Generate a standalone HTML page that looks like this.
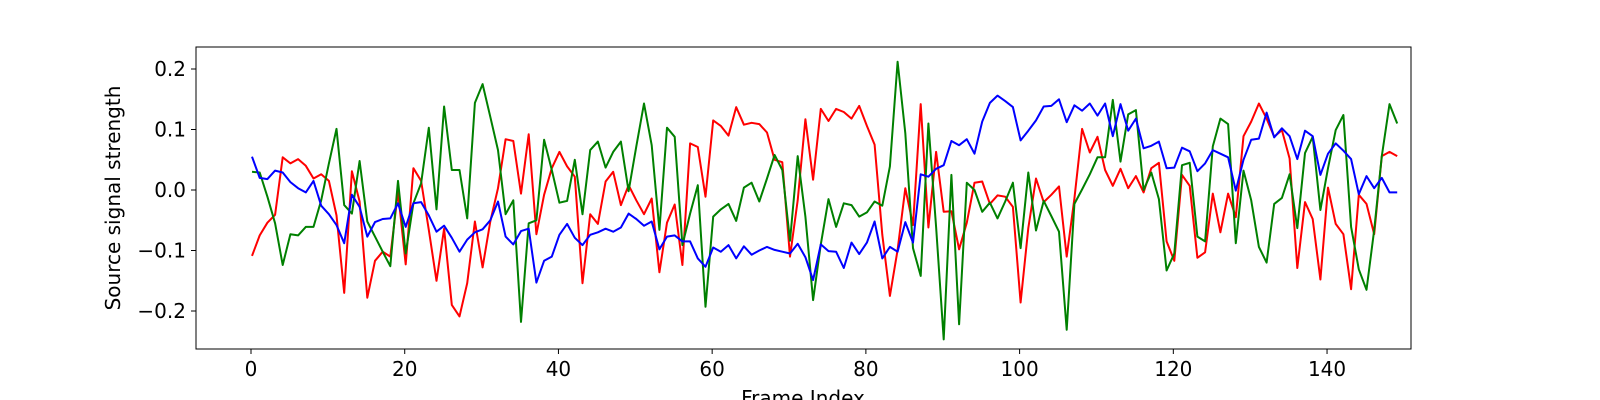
<!DOCTYPE html>
<html><head><meta charset="utf-8"><style>
body{margin:0;background:#fff;}
svg{display:block;font-family:"DejaVu Sans","Liberation Sans",sans-serif;}
</style></head><body>
<svg id="chart" width="1600" height="400">
<g id="lines"></g>
<rect x="196" y="47" width="1215" height="302" fill="none" stroke="#000" stroke-width="1"/>
<g id="xt"></g>
<g id="yt"></g>
<text x="120" y="198" font-size="20" text-anchor="middle" transform="rotate(-90 120 198)">Source signal strength</text>
<text x="803" y="405" font-size="20" text-anchor="middle">Frame Index</text>
</svg>
<script>
const xTicks=[0,20,40,60,80,100,120,140];
const yTicks=[0.2,0.1,0.0,-0.1,-0.2];
const yTickLabels=["0.2","0.1","0.0","−0.1","−0.2"];
const seriesColors=["red","green","blue"];
const redValues=[-0.109,-0.075,-0.054,-0.041,0.054,0.044,0.051,0.040,0.019,0.026,0.015,-0.042,-0.170,0.031,-0.019,-0.178,-0.117,-0.102,-0.110,-0.003,-0.123,0.036,0.015,-0.066,-0.150,-0.064,-0.190,-0.209,-0.154,-0.052,-0.128,-0.052,0.003,0.084,0.081,-0.006,0.092,-0.073,-0.008,0.036,0.063,0.039,0.022,-0.154,-0.040,-0.056,0.014,0.030,-0.025,0.008,-0.017,-0.040,-0.014,-0.136,-0.054,-0.024,-0.124,0.077,0.071,-0.011,0.115,0.106,0.090,0.137,0.108,0.111,0.109,0.095,0.050,0.046,-0.110,-0.017,0.117,0.017,0.134,0.114,0.134,0.129,0.118,0.139,0.106,0.075,-0.074,-0.175,-0.099,0.003,-0.058,0.142,-0.062,0.063,-0.036,-0.035,-0.098,-0.054,0.012,0.014,-0.023,-0.009,-0.011,-0.028,-0.186,-0.063,0.019,-0.020,-0.008,0.006,-0.110,-0.014,0.101,0.062,0.088,0.033,0.007,0.035,0.003,0.023,-0.004,0.036,0.045,-0.085,-0.117,0.025,0.007,-0.112,-0.103,-0.006,-0.070,-0.006,-0.045,0.089,0.113,0.143,0.118,0.088,0.099,0.052,-0.129,-0.020,-0.048,-0.148,0.004,-0.056,-0.073,-0.164,-0.008,-0.023,-0.073,0.056,0.063,0.056];
const greenValues=[0.030,0.029,-0.011,-0.055,-0.124,-0.073,-0.075,-0.061,-0.061,-0.017,0.044,0.101,-0.025,-0.039,0.048,-0.052,-0.077,-0.102,-0.126,0.015,-0.105,-0.022,0.011,0.103,-0.032,0.138,0.033,0.033,-0.047,0.144,0.175,0.121,0.066,-0.040,-0.017,-0.218,-0.055,-0.050,0.083,0.033,-0.021,-0.018,0.050,-0.040,0.066,0.080,0.037,0.063,0.080,-0.002,0.072,0.143,0.074,-0.066,0.103,0.088,-0.091,-0.039,0.008,-0.193,-0.044,-0.032,-0.023,-0.051,0.004,0.012,-0.019,0.019,0.058,0.033,-0.084,0.056,-0.044,-0.182,-0.090,-0.015,-0.061,-0.022,-0.025,-0.044,-0.037,-0.019,-0.026,0.039,0.212,0.094,-0.096,-0.142,0.110,-0.061,-0.247,0.025,-0.222,0.012,0.000,-0.036,-0.021,-0.047,-0.019,0.012,-0.096,0.029,-0.067,-0.018,-0.043,-0.069,-0.231,-0.023,0.001,0.026,0.054,0.054,0.149,0.047,0.125,0.132,0.000,0.029,-0.015,-0.133,-0.105,0.041,0.045,-0.077,-0.085,0.072,0.118,0.109,-0.088,0.032,-0.017,-0.094,-0.120,-0.023,-0.013,0.026,-0.063,0.061,0.088,-0.033,0.036,0.099,0.124,-0.061,-0.131,-0.165,-0.066,0.056,0.142,0.110];
const blueValues=[0.055,0.020,0.018,0.032,0.029,0.013,0.003,-0.004,0.015,-0.026,-0.040,-0.058,-0.088,-0.008,-0.028,-0.077,-0.053,-0.048,-0.047,-0.022,-0.061,-0.022,-0.020,-0.042,-0.069,-0.059,-0.079,-0.102,-0.082,-0.070,-0.065,-0.050,-0.019,-0.077,-0.090,-0.068,-0.064,-0.153,-0.117,-0.110,-0.074,-0.056,-0.079,-0.091,-0.074,-0.070,-0.064,-0.069,-0.062,-0.039,-0.048,-0.059,-0.052,-0.098,-0.077,-0.075,-0.085,-0.085,-0.113,-0.127,-0.095,-0.102,-0.091,-0.113,-0.093,-0.107,-0.100,-0.094,-0.099,-0.102,-0.105,-0.089,-0.111,-0.149,-0.090,-0.101,-0.102,-0.129,-0.087,-0.106,-0.087,-0.052,-0.113,-0.094,-0.102,-0.053,-0.087,0.026,0.022,0.035,0.041,0.081,0.074,0.084,0.060,0.113,0.144,0.156,0.147,0.137,0.082,0.098,0.115,0.138,0.139,0.150,0.112,0.140,0.131,0.143,0.123,0.143,0.089,0.142,0.098,0.118,0.069,0.073,0.080,0.036,0.037,0.070,0.064,0.031,0.044,0.066,0.060,0.054,-0.001,0.050,0.083,0.085,0.128,0.087,0.102,0.089,0.051,0.098,0.089,0.025,0.060,0.077,0.065,0.051,-0.007,0.023,0.003,0.020,-0.004,-0.004];
const NS="http://www.w3.org/2000/svg";
function xs(v){return 252+7.686*v;}
function ys(v){return 190-605*v;}
const lines=document.getElementById('lines');
const seriesList=[redValues,greenValues,blueValues];
const seriesNames=["red-series-line","green-series-line","blue-series-line"];
seriesList.forEach((arr,k)=>{
  const p=document.createElementNS(NS,'polyline');
  p.setAttribute('points',arr.map((v,i)=>xs(i).toFixed(1)+','+ys(v).toFixed(1)).join(' '));
  p.setAttribute('fill','none');p.setAttribute('stroke',seriesColors[k]);p.setAttribute('stroke-width','2');
  p.setAttribute('stroke-linejoin','round');
  
  
  lines.appendChild(p);
});
const xt=document.getElementById('xt');
xTicks.forEach(t=>{
  const l=document.createElementNS(NS,'line');
  l.setAttribute('x1',xs(t)-1);l.setAttribute('x2',xs(t)-1);l.setAttribute('y1',349);l.setAttribute('y2',354);l.setAttribute('stroke','#000');
  
  
  xt.appendChild(l);
  const tx=document.createElementNS(NS,'text');
  tx.setAttribute('x',xs(t)-1);tx.setAttribute('y',376);tx.setAttribute('font-size','20');tx.setAttribute('text-anchor','middle');
  tx.textContent=t;
  
  
  xt.appendChild(tx);
});
const yt=document.getElementById('yt');
yTicks.forEach((t,i)=>{
  const l=document.createElementNS(NS,'line');
  l.setAttribute('x1',191);l.setAttribute('x2',196);l.setAttribute('y1',ys(t));l.setAttribute('y2',ys(t));l.setAttribute('stroke','#000');
  
  
  yt.appendChild(l);
  const tx=document.createElementNS(NS,'text');
  tx.setAttribute('x',186);tx.setAttribute('y',ys(t)+7);tx.setAttribute('font-size','20');tx.setAttribute('text-anchor','end');
  tx.textContent=yTickLabels[i];
  
  
  yt.appendChild(tx);
});
</script>
</body></html>
